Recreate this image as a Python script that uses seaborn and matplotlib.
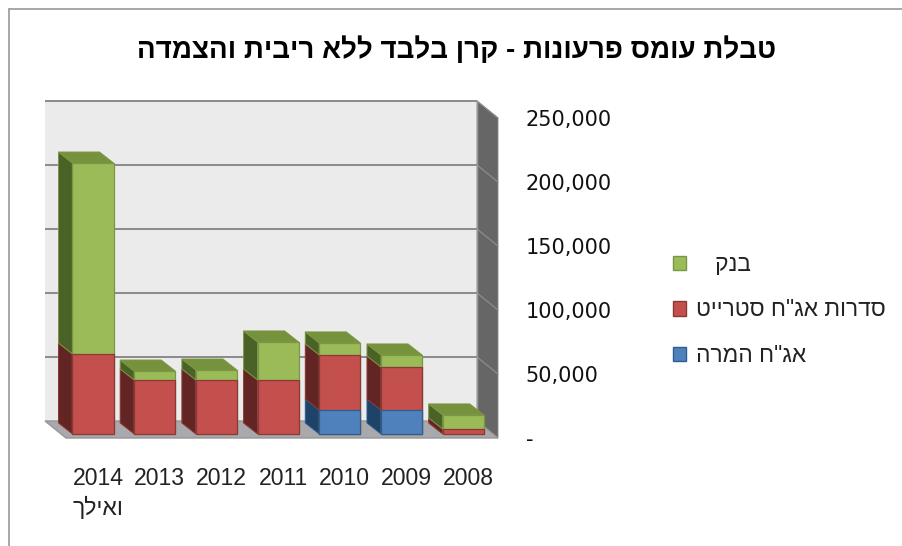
import matplotlib
matplotlib.use("Agg")
import matplotlib.pyplot as plt
from matplotlib.lines import Line2D
from matplotlib.patches import Patch, Polygon
import numpy as np
import seaborn as sns

# Redemption schedule, principal only (values by year)
years = ["2014\nואילך", "2013", "2012", "2011", "2010", "2009", "2008"]
convertible = [0, 0, 0, 0, 18750, 18750, 0]
straight = [62500, 42200, 42200, 42200, 43000, 33600, 3900]
bank = [149200, 7000, 7800, 29700, 9400, 9400, 11000]
value_ticks = [0, 50000, 100000, 150000, 200000, 250000]
value_labels = ["-", "50,000", "100,000", "150,000", "200,000", "250,000"]

title_text = 'טבלת עומס פרעונות - קרן בלבד ללא ריבית והצמדה'
legend_bank = 'בנק'
legend_straight = 'סדרות אג"ח סטרייט'
legend_convertible = 'אג"ח המרה'

FILL = {"blue": "#4f81bd", "red": "#c4504e", "green": "#9bbb59"}
SIDE = {"blue": "#1d4468", "red": "#632523", "green": "#4a6225"}
TOP = {"blue": "#376092", "red": "#953735", "green": "#76923c"}
EDGE = {"blue": "#2f5d8f", "red": "#8c3836", "green": "#7b9645"}


def visual(text):
    """Matplotlib lays text out left to right, so Hebrew lines go in visual order."""
    lines = text.split("\n")
    return "\n".join(l[::-1] if any("\u0590" <= c <= "\u05ff" for c in l) else l for l in lines)


sns.set_theme(style="white")
plt.rcParams["font.family"] = ["Liberation Sans", "DejaVu Sans"]

W, H = 903, 546
fig = plt.figure(figsize=(W / 100, H / 100), dpi=100, facecolor="white")
ax = fig.add_axes([45 / W, 1 - 438 / H, 453 / W, 337 / H])

# Axis scale: px per category step and value per px on the front plane
STEP_PX = 61.7
VAL_PER_PX = 781.25
XMIN, XMAX = -48 / STEP_PX, 405 / STEP_PX
YMIN, YMAX = -4 * VAL_PER_PX, 333 * VAL_PER_PX
WALL_DX, WALL_DY = 21 / STEP_PX, 17 * VAL_PER_PX
BAR_DX, BAR_DY = 14 / STEP_PX, 11 * VAL_PER_PX
BAR_WIDTH = 0.665

pos = np.arange(len(years))
blue = np.array(convertible, float)
red = blue + np.array(straight, float)
green = red + np.array(bank, float)

# Stacked fronts: tallest cumulative series first; empty segments are left out
categories = [str(i) for i in pos]
for tops, key in ((green, "green"), (red, "red"), (np.where(blue > 0, blue, np.nan), "blue")):
    sns.barplot(x=categories, y=tops, color=FILL[key], width=BAR_WIDTH, saturation=1,
                edgecolor=EDGE[key], linewidth=0.9, ax=ax, zorder=6)

ax.set_xlim(XMIN, XMAX)
ax.set_ylim(YMIN, YMAX)
ax.set_xlabel("")
ax.set_ylabel("")
for spine in ax.spines.values():
    spine.set_visible(False)
ax.patch.set_visible(False)

# Back wall sits one depth behind the front edge of the floor
wall_l, wall_r = XMIN, XMAX - WALL_DX
wall_0 = YMIN + WALL_DY
wall_top = wall_0 + 250000
ax.add_patch(Polygon([(wall_l, wall_0), (wall_r, wall_0), (wall_r, wall_top), (wall_l, wall_top)],
                     fc="#ebebeb", ec="none", zorder=1, clip_on=False))
ax.add_patch(Polygon([(wall_r, wall_0), (XMAX, YMIN), (XMAX, YMIN + 250000), (wall_r, wall_top)],
                     fc="#666666", ec="#8a8a8a", lw=0.6, zorder=1, clip_on=False))
ax.add_patch(Polygon([(wall_l, wall_0), (wall_r, wall_0), (XMAX, YMIN), (XMIN + WALL_DX, YMIN)],
                     fc="#a9a9ad", ec="#969696", lw=1.0, zorder=2, clip_on=False))
for v in value_ticks[1:]:
    ax.plot([wall_l, wall_r], [wall_0 + v] * 2, color="#8a8a8a", lw=1.4, zorder=3,
            solid_capstyle="butt", clip_on=False)
    ax.plot([wall_r, XMAX], [wall_0 + v, YMIN + v], color="#8c8c8c", lw=0.9, zorder=3, clip_on=False)
ax.plot([wall_r, wall_r], [wall_0, wall_top], color="#9a9a9a", lw=1.0, zorder=3, clip_on=False)

# Depth faces of each column, stacked from the base up
half = BAR_WIDTH / 2
for x, b, r, g in zip(pos, blue, red, green):
    left = x - half
    right = x + half
    for lo, hi, key in ((0, b, "blue"), (b, r, "red"), (r, g, "green")):
        if hi <= lo:
            continue
        ax.add_patch(Polygon([(left, lo), (left - BAR_DX, lo + BAR_DY),
                              (left - BAR_DX, hi + BAR_DY), (left, hi)],
                             fc=SIDE[key], ec=EDGE[key], lw=0.7, zorder=5))
    ax.add_patch(Polygon([(left, g), (left - BAR_DX, g + BAR_DY),
                          (right - BAR_DX, g + BAR_DY), (right, g)],
                         fc=TOP["green"], ec=EDGE["green"], lw=0.7, zorder=5))

# Axes text
ax.yaxis.tick_right()
ax.set_yticks(np.array(value_ticks) + YMIN)
ax.set_yticklabels(value_labels, family="DejaVu Sans", fontsize=15, color="#111111")
ax.set_xticks(pos + 5 / STEP_PX)
ax.set_xticklabels([visual(y) for y in years], fontsize=16.6, color="#222222", multialignment="left",
                   linespacing=1.4)
ax.tick_params(axis="y", length=0, pad=20)
ax.tick_params(axis="x", length=0, pad=21)

fig.text(457 / W, 1 - 50 / H, visual(title_text), ha="center", va="center", fontsize=20,
         fontweight="bold", color="black")

# Legend, in the same series order as the stack top-down
handles = [Patch(fc=FILL["green"], ec=EDGE["green"]),
           Patch(fc=FILL["red"], ec=EDGE["red"]),
           Patch(fc=FILL["blue"], ec=EDGE["blue"])]
labels = ["\u00a0\u00a0\u00a0" + visual(legend_bank), visual(legend_straight), visual(legend_convertible)]
fig.legend(handles, labels, loc="center left", bbox_to_anchor=(673 / W, 1 - 310 / H), frameon=False,
           fontsize=16.4, handlelength=0.58, handleheight=0.58, handletextpad=0.45, labelspacing=0.99,
           borderpad=0, borderaxespad=0, labelcolor="#222222")

# Outer chart frame
fig.add_artist(Line2D([9 / W, 1], [1 - 9 / H] * 2, color="#a0a0a0", lw=1.3))
fig.add_artist(Line2D([9 / W] * 2, [0, 1 - 9 / H], color="#a0a0a0", lw=1.3))

fig.savefig("out.png", dpi=100, facecolor="white")
